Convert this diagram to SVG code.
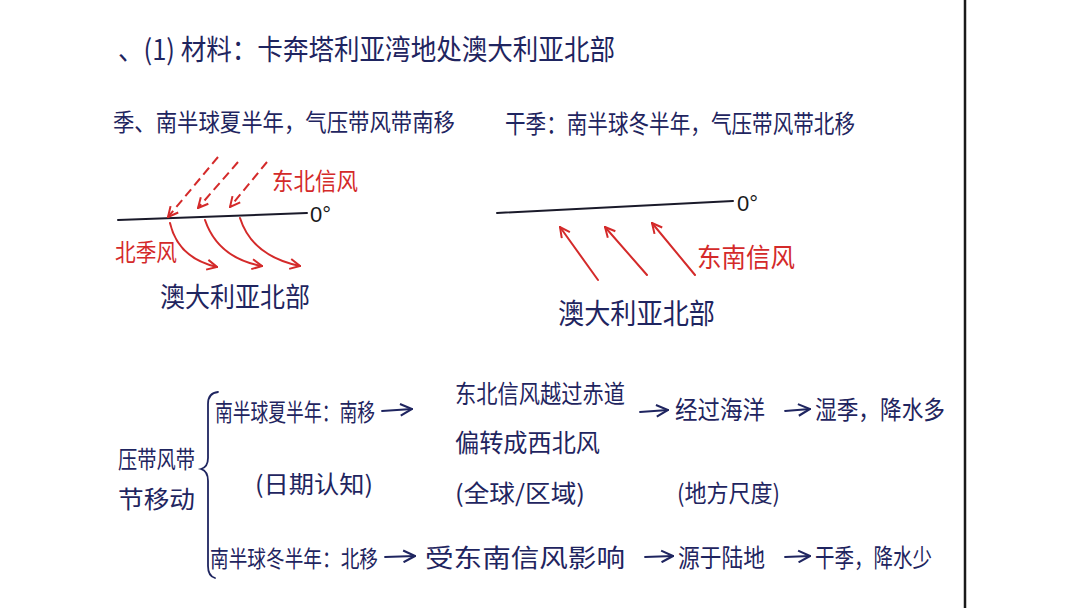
<svg xmlns="http://www.w3.org/2000/svg" width="1080" height="608" viewBox="0 0 1080 608">
<style>
.t{font-family:"Noto Sans CJK SC","Liberation Sans",sans-serif;fill:#1f2560;}
.r{font-family:"Noto Sans CJK SC","Liberation Sans",sans-serif;fill:#d42a2a;}
.k{font-family:"Liberation Sans",sans-serif;fill:#1a1a1a;}
.ln{stroke:#1a1a2a;stroke-width:2;fill:none;stroke-linecap:round;}
.ra{stroke:#d42a2a;stroke-width:2;fill:none;stroke-linecap:round;}
.rd{stroke:#d42a2a;stroke-width:2;fill:none;stroke-dasharray:9 5;}
.ba{stroke:#1f2560;stroke-width:1.8;fill:none;stroke-linecap:round;}
</style>
<defs>
<marker id="rh" viewBox="0 0 12 12" refX="11" refY="6" markerWidth="12" markerHeight="12" markerUnits="userSpaceOnUse" orient="auto"><path d="M1,1 L11,6 L1,11" fill="none" stroke="#d42a2a" stroke-width="2"/></marker>
<marker id="bh" viewBox="0 0 12 12" refX="11" refY="6" markerWidth="14" markerHeight="14" markerUnits="userSpaceOnUse" orient="auto"><path d="M1,1 L11,6 L1,11" fill="none" stroke="#1f2560" stroke-width="1.8"/></marker>
</defs>
<rect width="1080" height="608" fill="#ffffff"/>
<line x1="965" y1="0" x2="965" y2="608" stroke="#1a1a1a" stroke-width="2.5"/>

<g id="title"><text class="t" x="118" y="60" font-size="28" textLength="497" lengthAdjust="spacingAndGlyphs">、(1) 材料：卡奔塔利亚湾地处澳大利亚北部</text></g>

<g id="wet-header"><text class="t" x="113" y="131" font-size="24" textLength="342" lengthAdjust="spacingAndGlyphs">季、南半球夏半年，气压带风带南移</text></g>
<g id="dry-header"><text class="t" x="505" y="133" font-size="25" textLength="350" lengthAdjust="spacingAndGlyphs">干季：南半球冬半年，气压带风带北移</text></g>

<g id="wet-diagram">
<path class="ln" d="M118,220 L307,213"/>
<text class="k" x="310" y="222" font-size="22">0°</text>
<text class="r" x="272" y="190" font-size="24" textLength="86" lengthAdjust="spacingAndGlyphs">东北信风</text>
<text class="r" x="115" y="261" font-size="24" textLength="62" lengthAdjust="spacingAndGlyphs">北季风</text>
<text class="t" x="160" y="307" font-size="27" textLength="150" lengthAdjust="spacingAndGlyphs">澳大利亚北部</text>
</g>
<g id="dry-diagram">
<path class="ln" d="M497,213 L733,201"/>
<text class="k" x="737" y="211" font-size="22">0°</text>
<text class="r" x="697" y="267" font-size="26" textLength="98" lengthAdjust="spacingAndGlyphs">东南信风</text>
<text class="t" x="558" y="324" font-size="28" textLength="157" lengthAdjust="spacingAndGlyphs">澳大利亚北部</text>
</g>

<g id="connectors">
<path class="rd" d="M218,157 L168,217" marker-end="url(#rh)"/>
<path class="rd" d="M238,162 L198,208" marker-end="url(#rh)"/>
<path class="rd" d="M267,162 L230,207" marker-end="url(#rh)"/>
<path class="ra" d="M170,223 Q178,258 217,267" marker-end="url(#rh)"/>
<path class="ra" d="M205,220 Q218,258 262,266" marker-end="url(#rh)"/>
<path class="ra" d="M240,218 Q252,256 300,266" marker-end="url(#rh)"/>
<path class="ra" d="M598,280 L560,227" marker-end="url(#rh)"/>
<path class="ra" d="M647,275 L605,227" marker-end="url(#rh)"/>
<path class="ra" d="M695,275 L652,223" marker-end="url(#rh)"/>
<path class="ba" d="M382,411 L412,409" marker-end="url(#bh)"/>
<path class="ba" d="M640,412 L668,410" marker-end="url(#bh)"/>
<path class="ba" d="M785,411 L810,409" marker-end="url(#bh)"/>
<path class="ba" d="M385,557 L415,556" marker-end="url(#bh)"/>
<path class="ba" d="M645,557 L673,556" marker-end="url(#bh)"/>
<path class="ba" d="M785,557 L810,556" marker-end="url(#bh)"/>
<path class="ba" d="M218,392 Q208,393 208,404 L208,458 Q208,467 201,469 Q208,471 208,481 L208,566 Q208,576 215,578"/>
</g>

<g id="topic"><text class="t" x="118" y="468" font-size="24" textLength="77" lengthAdjust="spacingAndGlyphs">压带风带</text>
<text class="t" x="118" y="508" font-size="24" textLength="77" lengthAdjust="spacingAndGlyphs">节移动</text></g>

<g id="summer-branch">
<text class="t" x="215" y="421" font-size="24" textLength="160" lengthAdjust="spacingAndGlyphs">南半球夏半年：南移</text>
<text class="t" x="455" y="403" font-size="25" textLength="170" lengthAdjust="spacingAndGlyphs">东北信风越过赤道</text>
<text class="t" x="455" y="452" font-size="25" textLength="145" lengthAdjust="spacingAndGlyphs">偏转成西北风</text>
<text class="t" x="675" y="419" font-size="25" textLength="90" lengthAdjust="spacingAndGlyphs">经过海洋</text>
<text class="t" x="815" y="419" font-size="25" textLength="130" lengthAdjust="spacingAndGlyphs">湿季，降水多</text>
</g>
<g id="scales">
<text class="t" x="255" y="493" font-size="24" textLength="118" lengthAdjust="spacingAndGlyphs">(日期认知)</text>
<text class="t" x="455" y="502" font-size="24" textLength="130" lengthAdjust="spacingAndGlyphs">(全球/区域)</text>
<text class="t" x="677" y="502" font-size="24" textLength="103" lengthAdjust="spacingAndGlyphs">(地方尺度)</text>
</g>
<g id="winter-branch">
<text class="t" x="210" y="567" font-size="23" textLength="168" lengthAdjust="spacingAndGlyphs">南半球冬半年：北移</text>
<text class="t" x="425" y="567" font-size="25" textLength="200" lengthAdjust="spacingAndGlyphs">受东南信风影响</text>
<text class="t" x="678" y="567" font-size="25" textLength="87" lengthAdjust="spacingAndGlyphs">源于陆地</text>
<text class="t" x="815" y="567" font-size="25" textLength="117" lengthAdjust="spacingAndGlyphs">干季，降水少</text>
</g>
</svg>
